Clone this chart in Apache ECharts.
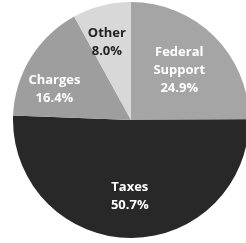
<!DOCTYPE html>
<html>
<head>
<meta charset="utf-8">
<script src="https://cdn.jsdelivr.net/npm/echarts@6/dist/echarts.min.js"></script>
<style>
  html, body { margin: 0; padding: 0; background: #fff; }
  #chart { width: 246px; height: 243px; }
</style>
</head>
<body>
<div id="chart"></div>
<script>
// revenue share pie, clockwise from 12 o'clock
const categories = ['Federal\nSupport', 'Taxes', 'Charges', 'Other'];
const shares = [24.9, 50.7, 16.4, 8.0];

const chart = echarts.init(document.getElementById('chart'));

const sliceColors = ['#a5a5a5', '#282828', '#9e9e9e', '#d8d8d8'];
const labelColors = ['#fff', '#fff', '#fff', '#222'];
// small nudges so labels sit where the original put them
const nudges = [[-6, 5], [0, -1], [-11, 10], [-5, -3]];

const pieData = categories.map((name, i) => ({
  name,
  value: shares[i],
  itemStyle: { color: sliceColors[i] }
}));

// transparent ring, only used to carry the labels
const labelData = categories.map((name, i) => ({
  name,
  value: shares[i],
  itemStyle: { color: 'transparent' },
  label: { color: labelColors[i], offset: nudges[i] }
}));

chart.setOption({
  animation: false,
  series: [
    {
      type: 'pie',
      center: [131, 120],
      radius: [0, 118],
      startAngle: 90,
      clockwise: true,
      silent: true,
      label: { show: false },
      labelLine: { show: false },
      data: pieData
    },
    {
      type: 'pie',
      center: [131, 120],
      radius: [30, 118],
      startAngle: 90,
      clockwise: true,
      silent: true,
      label: {
        show: true,
        position: 'inside',
        fontFamily: 'Open Sans',
        fontWeight: 'bold',
        fontSize: 13,
        lineHeight: 18,
        formatter: p => p.name + '\n' + p.value.toFixed(1) + '%'
      },
      labelLine: { show: false },
      data: labelData
    }
  ]
});
</script>
</body>
</html>
